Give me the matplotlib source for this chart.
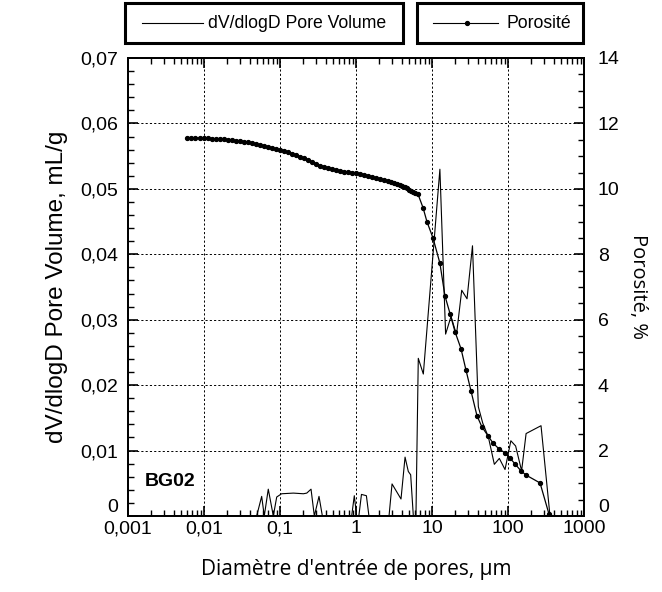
import numpy as np
import matplotlib.pyplot as plt
from matplotlib.patches import Rectangle
from matplotlib.lines import Line2D
from matplotlib.ticker import FixedLocator, MultipleLocator, LogLocator, NullFormatter

plt.rcParams['font.family'] = ['Liberation Sans', 'DejaVu Sans']

# porosity curve (right axis)
por_d = [0.00597, 0.00675, 0.00762, 0.00873, 0.0100, 0.0113, 0.0127, 0.0143, 0.0162, 0.0183,
         0.0207, 0.0234, 0.0264, 0.0298, 0.0336, 0.0379, 0.0428, 0.0483, 0.0546, 0.0616,
         0.0695, 0.0785, 0.0886, 0.100, 0.113, 0.128, 0.144, 0.162, 0.183, 0.207,
         0.234, 0.264, 0.298, 0.336, 0.379, 0.428, 0.483, 0.545, 0.616, 0.695,
         0.785, 0.886, 1.0, 1.13, 1.27, 1.43, 1.62, 1.83, 2.07, 2.34,
         2.64, 2.89, 3.16, 3.46, 3.79, 4.09, 4.42, 4.69, 4.98, 5.29,
         5.62, 6.06, 6.54, 7.63, 8.6, 10.3, 12.7, 14.8, 17.3, 20.1,
         24.1, 28.0, 32.6, 39.1, 45.5, 54.6, 63.5, 76.2, 91.4, 106,
         124, 148, 173, 264, 346]
por_val = [11.56, 11.56, 11.56, 11.56, 11.56, 11.55, 11.53, 11.53, 11.53, 11.52,
           11.50, 11.49, 11.47, 11.46, 11.44, 11.42, 11.39, 11.37, 11.34, 11.31,
           11.28, 11.25, 11.22, 11.19, 11.16, 11.12, 11.07, 11.03, 10.98, 10.93,
           10.88, 10.82, 10.76, 10.71, 10.67, 10.64, 10.61, 10.58, 10.55, 10.53,
           10.52, 10.50, 10.49, 10.46, 10.43, 10.40, 10.36, 10.33, 10.30, 10.27,
           10.24, 10.21, 10.18, 10.15, 10.12, 10.09, 10.06, 10.02, 9.97, 9.93,
           9.90, 9.87, 9.84, 9.42, 8.99, 8.50, 7.73, 6.73, 6.18, 5.63,
           5.11, 4.46, 3.82, 3.06, 2.72, 2.45, 2.23, 2.05, 1.93, 1.77,
           1.59, 1.38, 1.25, 1.01, 0.06]

# dV/dlogD curve (left axis)
dv_d = [0.00597, 0.0493, 0.0574, 0.0621, 0.0701, 0.0817, 0.0905, 0.105, 0.150, 0.203,
        0.225, 0.256, 0.283, 0.326, 0.361, 0.877, 0.950, 1.02, 1.09, 1.18,
        1.37, 1.48, 2.72, 2.98, 3.91, 4.42, 4.88, 5.24, 5.68, 6.15,
        6.60, 7.69, 12.7, 15.1, 17.8, 21.0, 24.6, 28.9, 34.1, 40.7,
        46.5, 55.1, 66.1, 76.9, 91.4, 109, 126, 151, 173, 272, 357]
dv_val = [0, 0, 0.0030, 0, 0.0041, 0, 0.0029, 0.0034, 0.0035, 0.0034,
          0.0035, 0.0041, 0, 0.0030, 0, 0, 0.0031, 0, 0, 0.0033,
          0.0031, 0, 0, 0.0049, 0.0026, 0.0090, 0.0068, 0.0063, 0, 0,
          0.0241, 0.0217, 0.0530, 0.0278, 0.0305, 0.0277, 0.0345, 0.0332, 0.0413, 0.0167,
          0.0142, 0.0121, 0.0079, 0.0088, 0.0071, 0.0115, 0.0107, 0.0069, 0.0126, 0.0138, 0]

x_ticks = [0.001, 0.01, 0.1, 1, 10, 100, 1000]
x_labels = ['0,001', '0,01', '0,1', '1', '10', '100', '1000']
left_ticks = [0, 0.01, 0.02, 0.03, 0.04, 0.05, 0.06, 0.07]
left_labels = ['0', '0,01', '0,02', '0,03', '0,04', '0,05', '0,06', '0,07']
right_ticks = [0, 2, 4, 6, 8, 10, 12, 14]

fig = plt.figure(figsize=(6.62, 5.92), dpi=100)
ax = fig.add_axes([128 / 662, 76 / 592, 456 / 662, 458 / 592])
ax2 = ax.twinx()

ax.plot(dv_d, dv_val, color='black', lw=0.8)
ax2.plot(por_d, por_val, color='black', lw=0.9, marker='o', markersize=2.8)

ax.set_xscale('log')
ax.set_xlim(0.001, 1000)
ax.set_ylim(0, 0.07)
ax2.set_ylim(0, 14)

ax.xaxis.set_major_locator(FixedLocator(x_ticks))
ax.set_xticklabels(x_labels)
ax.xaxis.set_minor_locator(LogLocator(base=10, subs=np.arange(2, 10)))
ax.xaxis.set_minor_formatter(NullFormatter())
ax.set_yticks(left_ticks)
ax.set_yticklabels(left_labels)
ax.yaxis.set_minor_locator(MultipleLocator(0.002))
ax2.set_yticks(right_ticks)
ax2.yaxis.set_minor_locator(MultipleLocator(0.5))

ax.grid(True, which='major', color='black', linestyle=(0, (2.2, 2.2)), lw=0.7)

ax.tick_params(axis='x', which='both', direction='in', top=True, labelsize=14, pad=3)
ax.tick_params(axis='y', which='both', direction='in', left=True, right=False, labelsize=14, pad=7)
ax2.tick_params(axis='y', which='both', direction='in', right=True, labelsize=14, pad=10)
for a in (ax, ax2):
    a.tick_params(which='major', length=7, width=1.2)
    a.tick_params(which='minor', length=4, width=1)
    for s in a.spines.values():
        s.set_linewidth(1.3)

# the zero labels sit just above the bottom corner, as in the original
ax.get_yticklabels()[0].set_va('bottom')
ax2.get_yticklabels()[0].set_va('bottom')

ax.set_ylabel('dV/dlogD Pore Volume, mL/g', fontsize=17.5, labelpad=9)
ax2.set_ylabel('Porosité, %', fontsize=14.5, rotation=270, labelpad=20, family=['Open Sans', 'DejaVu Sans'])
ax.set_xlabel("Diamètre d'entrée de pores, µm", fontsize=15, labelpad=16, family=['Open Sans', 'DejaVu Sans'])

ax.text(0.037, 0.065, 'BG02', transform=ax.transAxes, fontsize=14, fontweight='bold')

# legend boxes above the plot
H = 592.0
W = 662.0
fig.add_artist(Rectangle((125 / W, (H - 43) / H), 278 / W, 40 / H, transform=fig.transFigure,
                         fill=False, lw=2.2, ec='black'))
fig.add_artist(Rectangle((417 / W, (H - 43) / H), 166 / W, 40 / H, transform=fig.transFigure,
                         fill=False, lw=2.2, ec='black'))
fig.add_artist(Line2D([142 / W, 203 / W], [(H - 23) / H] * 2, transform=fig.transFigure,
                      color='black', lw=0.8))
fig.add_artist(Line2D([433 / W, 467 / W, 498 / W], [(H - 23) / H] * 3, transform=fig.transFigure,
                      color='black', lw=0.8, marker='o', markersize=2.8, markevery=[1]))
fig.text(208 / W, (H - 23) / H, 'dV/dlogD Pore Volume', fontsize=12.7, va='center')
fig.text(506 / W, (H - 23) / H, 'Porosité', fontsize=12.7, va='center')

fig.savefig('out.png', dpi=100)
